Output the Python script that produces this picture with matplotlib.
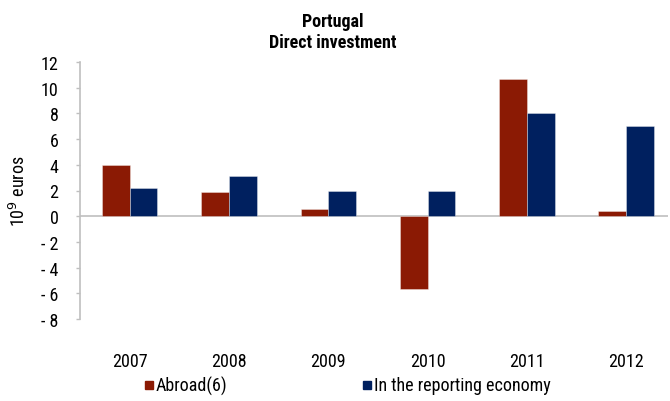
import matplotlib
matplotlib.use("Agg")
import matplotlib.pyplot as plt
import numpy as np
from matplotlib.patches import Rectangle
from matplotlib import font_manager as fm

# pick a condensed sans face if one is available
available = {f.name for f in fm.fontManager.ttflist}
preferred = ['Arial Narrow', 'Liberation Sans Narrow', 'Roboto Condensed',
             'Archivo Narrow', 'PT Sans Narrow', 'Pragati Narrow', 'Liberation Sans']
family = [f for f in preferred if f in available] + ['DejaVu Sans']
plt.rcParams['font.family'] = family
condensed = family[0] != 'Liberation Sans'
fs = 13 if condensed else 12

years = ["2007", "2008", "2009", "2010", "2011", "2012"]
abroad = [4.0, 1.85, 0.55, -5.7, 10.7, 0.42]
reporting = [2.2, 3.15, 1.93, 1.97, 8.0, 7.0]
yticks = [12, 10, 8, 6, 4, 2, 0, -2, -4, -6, -8]

red = "#8B1A04"
blue = "#00205F"
grey = "#BFBFBF"

fig = plt.figure(figsize=(6.7, 4.02), dpi=100)
ax = fig.add_axes([80 / 670, 1 - 320 / 402, 588 / 670, 257 / 402])

x = np.arange(len(years))
w = 0.28
ax.bar(x - w / 2, abroad, width=w, color=red, edgecolor=(1, 1, 1, 0.35), linewidth=0.7)
ax.bar(x + w / 2, reporting, width=w, color=blue, edgecolor=(1, 1, 1, 0.35), linewidth=0.7)

ax.set_xlim(-0.5, 5.42)
ax.set_ylim(-8, 12)
ax.axhline(0, color=grey, lw=1.2, zorder=0)

for s in ["top", "right", "bottom"]:
    ax.spines[s].set_visible(False)
ax.spines["left"].set_color(grey)
ax.spines["left"].set_linewidth(1.2)

ax.set_yticks(yticks)
ax.set_yticklabels([str(v) if v >= 0 else "- " + str(-v) for v in yticks], fontsize=fs)
ax.tick_params(axis="y", length=3, width=1, color=grey, pad=12.5)
ax.set_xticks(x)
ax.set_xticklabels(years, fontsize=fs)
ax.tick_params(axis="x", length=0, pad=24)

fig.text(19 / 670, 1 - 191 / 402, r"10$^9$ euros", rotation=90, ha="center", va="center", fontsize=fs)

fig.text(333 / 670, 1 - 22 / 402, "Portugal", ha="center", va="center", fontsize=fs, fontweight="bold")
fig.text(333 / 670, 1 - 43 / 402, "Direct investment", ha="center", va="center", fontsize=fs, fontweight="bold")

# legend
sq = 8
for x0, col, label in [(145, red, "Abroad(6)"), (363, blue, "In the reporting economy")]:
    fig.patches.append(Rectangle((x0 / 670, 1 - 390 / 402), sq / 670, sq / 402,
                                 transform=fig.transFigure, color=col, figure=fig))
    fig.text((x0 + sq + 3) / 670, 1 - 386 / 402, label, ha="left", va="center", fontsize=fs)

fig.savefig("out.png", dpi=100)
